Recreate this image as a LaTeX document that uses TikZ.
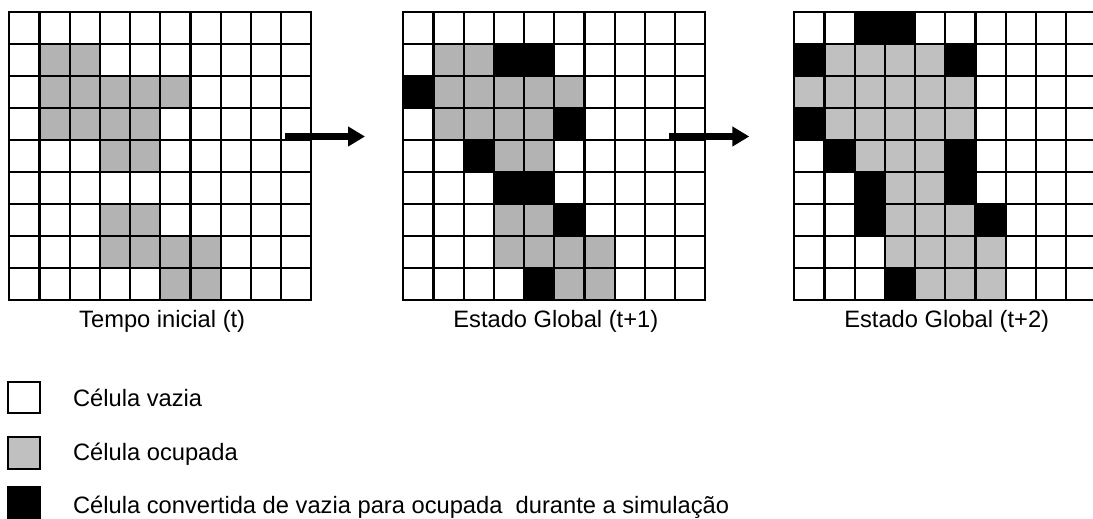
\documentclass[tikz,border=0pt]{standalone}
\usepackage{fontspec}
\setmainfont{Liberation Sans}
\usetikzlibrary{arrows.meta}
\definecolor{occgray}{RGB}{179,179,179}
\definecolor{occlight}{RGB}{192,192,192}

\begin{document}
\begin{tikzpicture}[x=0.5pt, y=-0.5pt,
  occ/.style={fill=occgray},
  occl/.style={fill=occlight},
  conv/.style={fill=black},
  cellgrid/.style={line width=1.1pt},
  arr/.style={-{Triangle[length=8.5pt,width=9.5pt]},line width=3.6pt},
  lbl/.style={font=\fontsize{11.85}{14}\selectfont, anchor=base},
  legbox/.style={draw, line width=1pt, minimum width=15.8pt,
                 minimum height=15.8pt, inner sep=0pt},
  legtxt/.style={font=\fontsize{11.85}{14}\selectfont, anchor=base west, inner sep=0pt}
]
\path[use as bounding box, clip] (0,0) rectangle (1093,519);

% tempo inicial
\begin{scope}[shift={(9.3,11.7)}, x=15.1pt, y=-16pt]
  \foreach \c/\r in {2/2,3/2, 2/3,3/3,4/3,5/3,6/3, 2/4,3/4,4/4,5/4, 4/5,5/5,
                     4/7,5/7, 4/8,5/8,6/8,7/8, 6/9,7/9}
    \fill[occ] (\c-1,\r-1) rectangle (\c,\r);
  \foreach \i in {1,...,9} \draw[cellgrid] (\i,0) -- (\i,9);
  \foreach \j in {1,...,8} \draw[cellgrid] (0,\j) -- (10,\j);
  \draw[cellgrid] (0,0) rectangle (10,9);
\end{scope}

% estado global t+1
\begin{scope}[shift={(403.3,11.7)}, x=15.1pt, y=-16pt]
  \foreach \c/\r in {2/2,3/2, 2/3,3/3,4/3,5/3,6/3, 2/4,3/4,4/4,5/4, 4/5,5/5,
                     4/7,5/7, 4/8,5/8,6/8,7/8, 6/9,7/9}
    \fill[occ] (\c-1,\r-1) rectangle (\c,\r);
  \foreach \c/\r in {4/2,5/2, 1/3, 6/4, 3/5, 4/6,5/6, 6/7, 5/9}
    \fill[conv] (\c-1,\r-1) rectangle (\c,\r);
  \foreach \i in {1,...,9} \draw[cellgrid] (\i,0) -- (\i,9);
  \foreach \j in {1,...,8} \draw[cellgrid] (0,\j) -- (10,\j);
  \draw[cellgrid] (0,0) rectangle (10,9);
\end{scope}

% estado global t+2
\begin{scope}[shift={(794.3,11.7)}, x=15.1pt, y=-16pt]
  \foreach \c/\r in {2/2,3/2,4/2,5/2, 1/3,2/3,3/3,4/3,5/3,6/3, 2/4,3/4,4/4,5/4,6/4,
                     3/5,4/5,5/5, 4/6,5/6, 4/7,5/7,6/7, 4/8,5/8,6/8,7/8, 5/9,6/9,7/9}
    \fill[occl] (\c-1,\r-1) rectangle (\c,\r);
  \foreach \c/\r in {3/1,4/1, 1/2,6/2, 1/4, 2/5,6/5, 3/6,6/6, 3/7,7/7, 4/9}
    \fill[conv] (\c-1,\r-1) rectangle (\c,\r);
  \foreach \i in {1,...,9} \draw[cellgrid] (\i,0) -- (\i,9);
  \foreach \j in {1,...,8} \draw[cellgrid] (0,\j) -- (10,\j);
  \draw[cellgrid] (0,0) rectangle (10,9);
\end{scope}

% setas
\coordinate (a1s) at (285,136.5);
\coordinate (a1e) at (365,136.5);
\coordinate (a2s) at (669.3,136.5);
\coordinate (a2e) at (749.3,136.5);
\draw[arr] (a1s) -- (a1e);
\draw[arr] (a2s) -- (a2e);

\node[lbl] (t0) at (162.2,327) {Tempo inicial (t)};
\node[lbl] (t1) at (555.8,327) {Estado Global (t+1)};
\node[lbl] (t2) at (946.7,327) {Estado Global (t+2)};

% legenda
\node[legbox, fill=white]    (kvaz) at (24.2,397.5) {};
\node[legbox, fill=occlight] (kocu) at (24.2,453)   {};
\node[legbox, fill=black]    (kcon) at (24.2,503)   {};
\node[legtxt] (lvaz) at (72.7,406)   {Célula vazia};
\node[legtxt] (locu) at (72.7,460.5) {Célula ocupada};
\node[legtxt] (lcon) at (72.7,513)   {Célula convertida de vazia para ocupada\ \ durante a simulação};
\end{tikzpicture}
\end{document}
